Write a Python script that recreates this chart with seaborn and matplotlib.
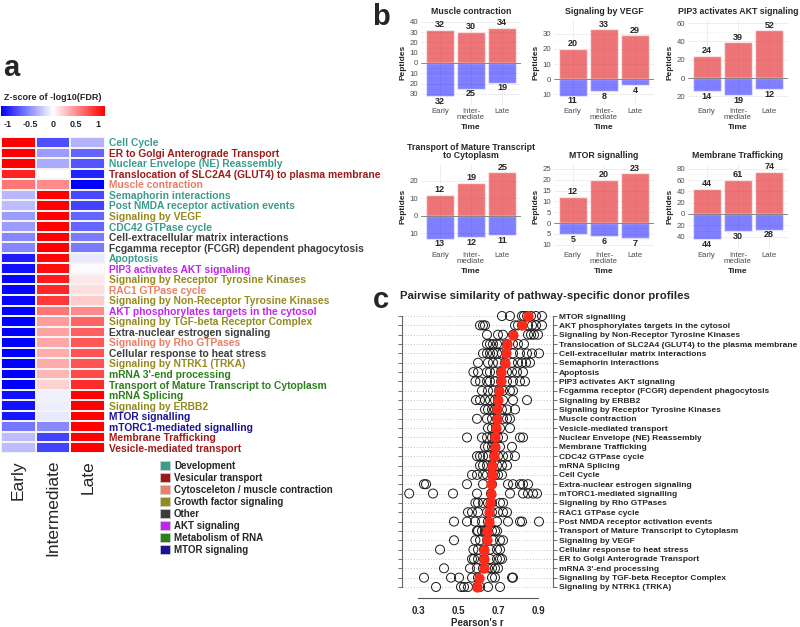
import numpy as np
import pandas as pd
import matplotlib
matplotlib.use('Agg')
import matplotlib.pyplot as plt
from matplotlib.colors import LinearSegmentedColormap
from matplotlib.patches import Patch
import seaborn as sns

sns.set_style('white')
plt.rcParams['font.family'] = ['Liberation Sans', 'DejaVu Sans']

W, H = 800, 627


def rect(l, t, r, b):
    # pixel box -> figure fraction
    return [l / W, 1 - b / H, (r - l) / W, (b - t) / H]


# ---------------- panel a data ----------------
a_pathways = [
    'Cell Cycle', 'ER to Golgi Anterograde Transport', 'Nuclear Envelope (NE) Reassembly',
    'Translocation of SLC2A4 (GLUT4) to plasma membrane', 'Muscle contraction',
    'Semaphorin interactions', 'Post NMDA receptor activation events', 'Signaling by VEGF',
    'CDC42 GTPase cycle', 'Cell-extracellular matrix interactions',
    'Fcgamma receptor (FCGR) dependent phagocytosis', 'Apoptosis', 'PIP3 activates AKT signaling',
    'Signaling by Receptor Tyrosine Kinases', 'RAC1 GTPase cycle',
    'Signaling by Non-Receptor Tyrosine Kinases', 'AKT phosphorylates targets in the cytosol',
    'Signaling by TGF-beta Receptor Complex', 'Extra-nuclear estrogen signaling',
    'Signaling by Rho GTPases', 'Cellular response to heat stress', 'Signaling by NTRK1 (TRKA)',
    "mRNA 3'-end processing", 'Transport of Mature Transcript to Cytoplasm', 'mRNA Splicing',
    'Signaling by ERBB2', 'MTOR signalling', 'mTORC1-mediated signalling',
    'Membrane Trafficking', 'Vesicle-mediated transport',
]
a_groups = [
    'dev', 'ves', 'dev', 'ves', 'cyto', 'dev', 'dev', 'growth', 'dev', 'other', 'other', 'dev',
    'akt', 'growth', 'cyto', 'growth', 'akt', 'growth', 'other', 'cyto', 'other', 'growth',
    'rna', 'rna', 'rna', 'growth', 'mtor', 'mtor', 'ves', 'ves',
]
a_early = [1.15, 1.15, 1.15, 1.0, 0.62, -0.32, -0.30, -0.45, -0.45, -0.55, -0.55, -1.02,
           -1.08, -1.12, -1.12, -1.13, -1.15, -1.15, -1.15, -1.15, -1.15, -1.15, -1.15,
           -1.15, -1.08, -1.07, -1.05, -0.62, -0.30, -0.30]
a_inter = [-0.80, -0.45, -0.38, 0.0, 0.53, 1.15, 1.15, 1.15, 1.15, 1.15, 1.15, 1.12,
           1.10, 1.02, 0.97, 0.90, 0.62, 0.45, 0.42, 0.40, 0.37, 0.37, 0.33,
           0.20, -0.07, -0.08, -0.10, -0.53, -0.85, -0.85]
a_late = [-0.35, -0.70, -0.77, -1.0, -1.15, -0.83, -0.85, -0.70, -0.70, -0.60, -0.60, -0.10,
          -0.02, 0.10, 0.15, 0.23, 0.53, 0.70, 0.73, 0.75, 0.78, 0.78, 0.82,
          0.95, 1.15, 1.15, 1.15, 1.15, 1.15, 1.15]

group_keys = ['dev', 'ves', 'cyto', 'growth', 'other', 'akt', 'rna', 'mtor']
group_labels = ['Development', 'Vesicular transport', 'Cytosceleton / muscle contraction',
                'Growth factor signaling', 'Other', 'AKT signaling', 'Metabolism of RNA',
                'MTOR signaling']
group_colors = {'dev': '#3A9C8C', 'ves': '#9E1A1A', 'cyto': '#EA7E66', 'growth': '#958A1E',
                'other': '#3C3C3C', 'akt': '#C125EE', 'rna': '#2A8019', 'mtor': '#1B1396'}

# ---------------- panel b data ----------------
b_titles = ['Muscle contraction', 'Signaling by VEGF', 'PIP3 activates AKT signaling',
            'Transport of Mature Transcript\nto Cytoplasm', 'MTOR signalling',
            'Membrane Trafficking']
b_times = ['Early', 'Inter-\nmediate', 'Late']
b_up = [[32, 30, 34], [20, 33, 29], [24, 39, 52], [12, 19, 25], [12, 20, 23], [44, 61, 74]]
b_down = [[32, 25, 19], [11, 8, 4], [14, 19, 12], [13, 12, 11], [5, 6, 7], [44, 30, 28]]
b_ticks = [[-30, -20, -10, 0, 10, 20, 30, 40], [-10, 0, 10, 20, 30], [-20, 0, 20, 40, 60],
           [-10, 0, 10, 20], [-10, -5, 0, 5, 10, 15, 20, 25], [-40, -20, 0, 20, 40, 60, 80]]

# ---------------- panel c data ----------------
c_pathways = [
    'MTOR signalling', 'AKT phosphorylates targets in the cytosol',
    'Signaling by Non-Receptor Tyrosine Kinases',
    'Translocation of SLC2A4 (GLUT4) to the plasma membrane',
    'Cell-extracellular matrix interactions', 'Semaphorin interactions', 'Apoptosis',
    'PIP3 activates AKT signaling', 'Fcgamma receptor (FCGR) dependent phagocytosis',
    'Signaling by ERBB2', 'Signaling by Receptor Tyrosine Kinases', 'Muscle contraction',
    'Vesicle-mediated transport', 'Nuclear Envelope (NE) Reassembly', 'Membrane Trafficking',
    'CDC42 GTPase cycle', 'mRNA Splicing', 'Cell Cycle', 'Extra-nuclear estrogen signaling',
    'mTORC1-mediated signalling', 'Signaling by Rho GTPases', 'RAC1 GTPase cycle',
    'Post NMDA receptor activation events', 'Transport of Mature Transcript to Cytoplasm',
    'Signaling by VEGF', 'Cellular response to heat stress', 'ER to Golgi Anterograde Transport',
    "mRNA 3'-end processing", 'Signaling by TGF-beta Receptor Complex',
    'Signaling by NTRK1 (TRKA)',
]
c_median = [0.85, 0.82, 0.775, 0.745, 0.74, 0.735, 0.715, 0.715, 0.705, 0.70, 0.695, 0.695,
            0.69, 0.685, 0.685, 0.68, 0.672, 0.67, 0.665, 0.664, 0.66, 0.656, 0.654, 0.647,
            0.647, 0.63, 0.63, 0.628, 0.603, 0.595]
c_pairs = [
    [0.72, 0.76, 0.82, 0.83, 0.845, 0.865, 0.89, 0.92],
    [0.61, 0.625, 0.635, 0.785, 0.80, 0.82, 0.85, 0.87, 0.89, 0.92],
    [0.645, 0.70, 0.725, 0.775, 0.85, 0.865, 0.88, 0.90],
    [0.645, 0.66, 0.675, 0.695, 0.71, 0.745, 0.775, 0.80, 0.83],
    [0.625, 0.645, 0.66, 0.675, 0.695, 0.72, 0.74, 0.775, 0.81, 0.845, 0.87, 0.905],
    [0.60, 0.65, 0.675, 0.70, 0.735, 0.77, 0.80, 0.82, 0.84, 0.86],
    [0.577, 0.60, 0.645, 0.66, 0.685, 0.715, 0.745, 0.77, 0.795, 0.825],
    [0.587, 0.61, 0.645, 0.66, 0.685, 0.715, 0.745, 0.775, 0.81, 0.835],
    [0.62, 0.65, 0.675, 0.705, 0.725, 0.76, 0.775],
    [0.59, 0.61, 0.635, 0.66, 0.685, 0.70, 0.725, 0.775, 0.845],
    [0.635, 0.65, 0.67, 0.685, 0.695, 0.72, 0.745, 0.785],
    [0.595, 0.645, 0.67, 0.695, 0.725, 0.745, 0.76],
    [0.65, 0.67, 0.69, 0.71, 0.76],
    [0.545, 0.62, 0.645, 0.67, 0.685, 0.70, 0.725, 0.81, 0.825],
    [0.635, 0.65, 0.67, 0.685, 0.71, 0.77],
    [0.595, 0.61, 0.625, 0.65, 0.68, 0.70, 0.725, 0.75, 0.785],
    [0.61, 0.625, 0.645, 0.67, 0.695, 0.72, 0.745],
    [0.57, 0.595, 0.625, 0.645, 0.67, 0.685, 0.70, 0.72],
    [0.33, 0.34, 0.545, 0.625, 0.67, 0.75, 0.775, 0.81, 0.825, 0.85],
    [0.256, 0.375, 0.475, 0.595, 0.665, 0.76, 0.825, 0.85, 0.875, 0.895],
    [0.587, 0.60, 0.625, 0.65, 0.67, 0.71, 0.725],
    [0.55, 0.57, 0.60, 0.645, 0.67, 0.70, 0.725, 0.745],
    [0.48, 0.545, 0.585, 0.62, 0.65, 0.695, 0.75, 0.81, 0.82, 0.905],
    [0.595, 0.60, 0.62, 0.635, 0.645, 0.67, 0.685, 0.695],
    [0.48, 0.587, 0.61, 0.645, 0.675, 0.71, 0.725],
    [0.41, 0.577, 0.60, 0.63, 0.66, 0.695, 0.71],
    [0.57, 0.58, 0.60, 0.63, 0.66, 0.695, 0.71, 0.72],
    [0.43, 0.56, 0.595, 0.625, 0.65, 0.67, 0.685, 0.70],
    [0.33, 0.465, 0.505, 0.57, 0.60, 0.67, 0.685, 0.77, 0.775],
    [0.39, 0.515, 0.53, 0.55, 0.595, 0.61, 0.65, 0.71],
]

# ---------------- layout ----------------
b_rects = [(421, 20, 521, 105), (554, 20, 654, 105), (688, 20, 788, 105),
           (421, 164, 521, 249), (554, 164, 654, 249), (688, 164, 788, 249)]
b_ylims = [(-40.8, 41.7), (-17.3, 39.3), (-29.4, 63.3), (-18.9, 29.7), (-12.0, 27.3),
           (-62.0, 88.5)]

fig = plt.figure(figsize=(W / 100, H / 100), dpi=100)

# ================= panel a =================
hm = pd.DataFrame({'Early': a_early, 'Intermediate': a_inter, 'Late': a_late},
                  index=a_pathways)
cmap = LinearSegmentedColormap.from_list('bwr_z', ['#0000FF', '#FFFFFF', '#FF0000'])
ax_hm = fig.add_axes(rect(1, 137, 105, 453))
cax = fig.add_axes(rect(1, 106, 105, 116))
sns.heatmap(hm, ax=ax_hm, cmap=cmap, vmin=-1.155, vmax=1.155, cbar_ax=cax,
            cbar_kws={'orientation': 'horizontal', 'ticks': [-1, -0.5, 0, 0.5, 1]},
            linewidths=0.15, linecolor='#f4f4f4')
cax.set_xticklabels(['-1', '-0.5', '0', '0.5', '1'])
cax.tick_params(axis='x', length=0, pad=3, labelsize=6.5)
for t in cax.get_xticklabels():
    t.set_fontweight('bold')
cax.set_title('Z-score of -log10(FDR)', fontsize=6.5, fontweight='bold', pad=4)
for sp in cax.spines.values():
    sp.set_visible(False)

ax_hm.yaxis.tick_right()
ax_hm.set_yticks(np.arange(len(a_pathways)) + 0.5)
ax_hm.set_yticklabels(a_pathways, rotation=0, fontsize=7.4, fontweight='bold')
for lab, g in zip(ax_hm.get_yticklabels(), a_groups):
    lab.set_color(group_colors[g])
ax_hm.set_xticks([0.5, 1.5, 2.5])
ax_hm.set_xticklabels(['Early', 'Intermediate', 'Late'], rotation=90, fontsize=12.5)
ax_hm.tick_params(axis='both', length=0)
ax_hm.tick_params(axis='y', pad=3)
ax_hm.tick_params(axis='x', pad=5)
ax_hm.set_xlabel('')
ax_hm.set_ylabel('')

handles = [Patch(facecolor=group_colors[k], edgecolor='#d0d0d0', linewidth=0.5)
           for k in group_keys]
fig.legend(handles, group_labels, loc='upper left', bbox_to_anchor=(160 / W, 1 - 461 / H),
           frameon=False, prop={'size': 7, 'weight': 'bold'}, handlelength=1.0,
           handleheight=1.0, handletextpad=0.45, labelspacing=0.2, borderaxespad=0,
           borderpad=0, labelcolor='#262626')

# ================= panel b =================
red_bar = '#E41A1C'
blue_bar = '#0000FF'
for i in range(6):
    ax = fig.add_axes(rect(*b_rects[i]))
    up_df = pd.DataFrame({'time': b_times, 'n': b_up[i]})
    dn_df = pd.DataFrame({'time': b_times, 'n': [-d for d in b_down[i]]})
    sns.barplot(data=up_df, x='time', y='n', color=red_bar, alpha=0.6, saturation=1,
                width=0.9, ax=ax, zorder=2)
    sns.barplot(data=dn_df, x='time', y='n', color=blue_bar, alpha=0.5, saturation=1,
                width=0.9, ax=ax, zorder=2)
    ax.bar_label(ax.containers[0], labels=[str(v) for v in b_up[i]], padding=0.5,
                 fontsize=6.5, fontweight='bold')
    ax.bar_label(ax.containers[1], labels=[str(v) for v in b_down[i]], padding=0.5,
                 fontsize=6.5, fontweight='bold')
    ax.axhline(0, color='#777777', lw=0.6, zorder=3)
    ticks = b_ticks[i]
    ax.set_yticks(ticks)
    ax.set_yticklabels([str(abs(t)) for t in ticks])
    step = ticks[1] - ticks[0]
    ax.set_yticks([t + step / 2 for t in ticks[:-1]], minor=True)
    ax.set_xlim(-0.6, 2.6)
    ax.set_ylim(*b_ylims[i])
    ax.grid(which='major', color='#EBEBEB', lw=0.6)
    ax.grid(which='minor', axis='y', color='#F4F4F4', lw=0.4)
    ax.set_axisbelow(True)
    for sp in ax.spines.values():
        sp.set_visible(False)
    ax.tick_params(axis='both', which='both', length=0, labelsize=5.6, labelcolor='#4D4D4D',
                   pad=2)
    for t in ax.get_xticklabels():
        t.set_linespacing(0.85)
    ax.set_title(b_titles[i], fontsize=6.3, fontweight='bold', pad=4, linespacing=0.95)
    ax.set_xlabel('Time', fontsize=6, fontweight='bold', labelpad=2)
    ax.set_ylabel('Peptides', fontsize=6, fontweight='bold', labelpad=2)

# ================= panel c =================
c_long = pd.DataFrame({
    'row': [i for i, vals in enumerate(c_pairs) for _ in vals],
    'r': [v for vals in c_pairs for v in vals],
})
c_med = pd.DataFrame({'row': range(len(c_median)), 'r': c_median})

ax_c = fig.add_axes(rect(402, 305, 553, 598))
for i in range(len(c_pathways)):
    ax_c.axhline(i, color='#BBBBBB', ls=(0, (1.2, 2.2)), lw=0.6, zorder=0)
sns.scatterplot(data=c_long, x='r', y='row', facecolor='none', edgecolor='#1a1a1a', s=42,
                linewidth=0.7, ax=ax_c, legend=False, zorder=2)
sns.scatterplot(data=c_med, x='r', y='row', color='#FF2A1A', s=55, linewidth=0, ax=ax_c,
                legend=False, zorder=3)
ax_c.set_ylim(30.18, -1.18)
ax_c.set_xlim(0.22, 0.975)
ax_c.set_yticks(range(len(c_pathways)))
ax_c.set_yticklabels(c_pathways)
ax_c.yaxis.tick_right()
ax_c.tick_params(axis='y', left=True, right=True, labelleft=False, labelright=True,
                 length=3, width=0.6, color='#555555', labelsize=6.0, pad=1)
for t in ax_c.get_yticklabels():
    t.set_fontweight('bold')
ax_c.set_xticks([0.3, 0.4, 0.5, 0.6, 0.7, 0.8, 0.9])
ax_c.set_xticklabels(['0.3', '', '0.5', '', '0.7', '', '0.9'])
ax_c.tick_params(axis='x', length=4, width=0.6, color='#555555', labelsize=7, pad=2)
for t in ax_c.get_xticklabels():
    t.set_fontweight('bold')
ax_c.spines['top'].set_visible(False)
for side in ['left', 'right']:
    ax_c.spines[side].set_bounds(0, len(c_pathways) - 1)
    ax_c.spines[side].set_color('#666666')
    ax_c.spines[side].set_linewidth(0.8)
ax_c.spines['bottom'].set_bounds(0.3, 0.9)
ax_c.spines['bottom'].set_color('#555555')
ax_c.spines['bottom'].set_linewidth(0.8)
ax_c.set_xlabel("Pearson's r", fontsize=7, fontweight='bold', labelpad=1)
ax_c.set_ylabel('')

fig.text(545 / W, 1 - 296 / H, 'Pairwise similarity of pathway-specific donor profiles',
         ha='center', va='center', fontsize=8.2, fontweight='bold')

# panel letters
fig.text(11 / W, 1 - 76 / H, 'a', ha='center', va='baseline', fontsize=21, fontweight='bold')
fig.text(381 / W, 1 - 25 / H, 'b', ha='center', va='baseline', fontsize=21, fontweight='bold')
fig.text(381 / W, 1 - 308 / H, 'c', ha='center', va='baseline', fontsize=21, fontweight='bold')

fig.savefig('out.png', dpi=100)
